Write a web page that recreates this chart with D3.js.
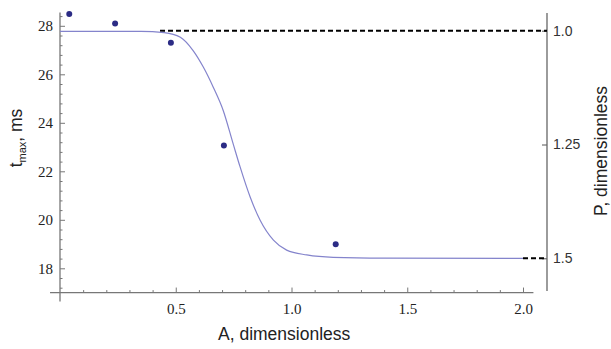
<!DOCTYPE html>
<html><head><meta charset="utf-8">
<script src="https://cdn.jsdelivr.net/npm/d3@7"></script>
<style>body{margin:0;background:#fff}svg{display:block}</style>
</head><body><svg id="c" width="611" height="349"></svg>
<script>
// Data
const pointsA = [0.04, 0.238, 0.479, 0.708, 1.191];
const pointsT = [28.49, 28.1, 27.3, 23.06, 18.99];
const curveA = [0, 0.35, 0.45, 0.52, 0.575, 0.619, 0.662, 0.705, 0.749, 0.778, 0.821, 0.864, 0.922, 0.979, 1.066, 1.18, 1.4, 2.0];
const curveT = [27.77, 27.77, 27.72, 27.53, 26.98, 26.3, 25.47, 24.51, 23.1, 22.18, 20.95, 19.99, 19.16, 18.75, 18.55, 18.45, 18.42, 18.41];
const xTicks = [0.5, 1.0, 1.5, 2.0];
const xTickLabels = ["0.5", "1.0", "1.5", "2.0"];
const yTicks = [18, 20, 22, 24, 26, 28];
const pTicks = [1.0, 1.25, 1.5];
const pTickLabels = ["1.0", "1.25", "1.5"];
const dashStartA = [0.432, 2.0]; // start of dashed guides at P=1.0 and P=1.5

const svg = d3.select("#c");
const x = d3.scaleLinear().domain([0, 2]).range([60, 523]);
const y = d3.scaleLinear().domain([18, 28]).range([268.3, 25.8]);
const p = d3.scaleLinear().domain([1.0, 1.5]).range([30.7, 258.3]);
const rightX = 547;
const axisCol = "#777";
const serif = "'Liberation Serif','Times New Roman',serif";
const sans = "'Liberation Sans',Arial,sans-serif";

// minor ticks
const yMinor = d3.range(17.2, 28.5, 0.4).filter(v => Math.abs(v/2 - Math.round(v/2)) > 0.01);
const xMinor = d3.range(0.1, 2.01, 0.1).filter(v => Math.abs(v*2 - Math.round(v*2)) > 0.01);

const yAxisG = svg.append("g").attr("transform", `translate(${x(0)},0)`)
  .call(d3.axisLeft(y).tickValues(yMinor).tickSize(-2.5).tickFormat(""));
yAxisG.select(".domain").remove();
yAxisG.selectAll("line").attr("stroke", axisCol);
const yAxisM = svg.append("g").attr("transform", `translate(${x(0)},0)`)
  .call(d3.axisLeft(y).tickValues(yTicks).tickSize(-5).tickPadding(7).tickFormat(d3.format("d")));
yAxisM.select(".domain").remove();
yAxisM.selectAll("line").attr("stroke", axisCol);
yAxisM.selectAll("text").attr("font-family", serif).attr("font-size", 15).attr("fill", "#222");

const xAxisG = svg.append("g").attr("transform", `translate(0,${y(17)})`)
  .call(d3.axisBottom(x).tickValues(xMinor).tickSize(-2.5).tickFormat(""));
xAxisG.select(".domain").remove();
xAxisG.selectAll("line").attr("stroke", axisCol);
const xAxisM = svg.append("g").attr("transform", `translate(0,${y(17)})`)
  .call(d3.axisBottom(x).tickValues(xTicks).tickSize(-5).tickPadding(11).tickFormat((d,i) => xTickLabels[i]));
xAxisM.select(".domain").remove();
xAxisM.selectAll("line").attr("stroke", axisCol);
xAxisM.selectAll("text").attr("font-family", serif).attr("font-size", 15).attr("fill", "#222");

// axis lines
svg.append("line").attr("x1", x(0)).attr("x2", x(0)).attr("y1", y(28.55)).attr("y2", y(16.63))
  .attr("stroke", axisCol).attr("stroke-width", 1.3);
svg.append("line").attr("x1", x(-0.043)).attr("x2", x(2.045)).attr("y1", y(17)).attr("y2", y(17))
  .attr("stroke", axisCol).attr("stroke-width", 1.3);

// right axis
const pAxis = svg.append("g").attr("transform", `translate(${rightX},0)`)
  .call(d3.axisRight(p).tickValues(pTicks).tickSize(-5).tickPadding(6).tickFormat((d,i) => pTickLabels[i]));
pAxis.select(".domain").remove();
pAxis.selectAll("line").attr("stroke", "#555");
pAxis.selectAll("text").attr("font-family", sans).attr("font-size", 14).attr("fill", "#333");
svg.append("line").attr("x1", rightX).attr("x2", rightX).attr("y1", 13).attr("y2", 291)
  .attr("stroke", "#666").attr("stroke-width", 1.3);

// dashed guides
svg.selectAll(".dash").data(pTicks.filter((d,i) => i !== 1)).join("line")
  .attr("x1", (d,i) => x(dashStartA[i])).attr("x2", rightX)
  .attr("y1", d => p(d)).attr("y2", d => p(d))
  .attr("stroke", "#000").attr("stroke-width", 2).attr("stroke-dasharray", "5,3");

// fitted curve
const curveData = curveA.map((a,i) => [a, curveT[i]]);
svg.append("path").datum(curveData)
  .attr("d", d3.line().x(d => x(d[0])).y(d => y(d[1])).curve(d3.curveMonotoneX))
  .attr("fill", "none").attr("stroke", "#8484cc").attr("stroke-width", 1.2);

// points
svg.selectAll(".pt").data(pointsA.map((a,i) => [a, pointsT[i]])).join("circle")
  .attr("cx", d => x(d[0])).attr("cy", d => y(d[1])).attr("r", 3)
  .attr("fill", "#2b2b85");

// titles
svg.append("text").attr("x", 218).attr("y", 340).attr("font-family", sans).attr("font-size", 17.5)
  .attr("fill", "#222").text("A, dimensionless");
const lt = svg.append("text").attr("transform", "translate(22,138) rotate(-90)")
  .attr("text-anchor", "middle").attr("font-family", sans).attr("font-size", 17.5).attr("fill", "#222");
lt.append("tspan").text("t");
lt.append("tspan").attr("font-size", 11).attr("dy", 4).text("max");
lt.append("tspan").attr("dy", -4).text(", ms");
svg.append("text").attr("transform", "translate(607,151) rotate(-90)")
  .attr("text-anchor", "middle").attr("font-family", sans).attr("font-size", 17.5).attr("fill", "#222")
  .text("P, dimensionless");
</script></body></html>
